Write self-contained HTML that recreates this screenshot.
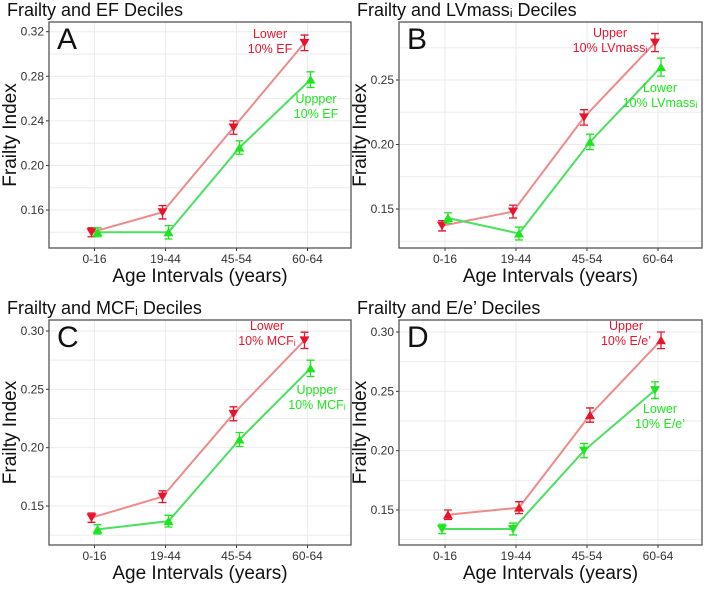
<!DOCTYPE html>
<html><head><meta charset="utf-8"><style>
body{margin:0;background:#fff;width:708px;height:585px;overflow:hidden}
svg{font-family:"Liberation Sans",Arial,sans-serif}
</style></head><body>
<svg id="c" width="708" height="585"></svg>
<script>
const categories=["0-16","19-44","45-54","60-64"];
const redA=[0.140,0.158,0.234,0.310], greenA=[0.140,0.140,0.216,0.277];
const redB=[0.137,0.148,0.221,0.279], greenB=[0.143,0.131,0.202,0.260];
const redC=[0.140,0.158,0.229,0.292], greenC=[0.130,0.137,0.207,0.268];
const redD=[0.146,0.152,0.230,0.293], greenD=[0.134,0.134,0.200,0.251];
const errA=[0.004,0.006,0.006,0.007], errB=[0.004,0.005,0.006,0.007];
const ticksA=["0.16","0.20","0.24","0.28","0.32"];
const ticksBCD=["0.15","0.20","0.25","0.30"];
const ticksB=["0.15","0.20","0.25"];
const NS="http://www.w3.org/2000/svg";
const svg=document.getElementById('c');
function el(t,a,p){const e=document.createElementNS(NS,t);for(const k in a)e.setAttribute(k,a[k]);(p||svg).appendChild(e);return e;}
const RED="#e8142c",REDL="#f08a8a",GRN="#1ee61e",GRNL="#4ae060";
function panel(o){
  const g=el('g',{});
  
  
  const [x0,y0,x1,y1]=o.box;
  const y=v=>o.py0+(v-o.v0)*(o.py1-o.py0)/(o.v1-o.v0);
  const x=i=>o.cx0+i*o.dx;
  const step=parseFloat(o.ticks[1])-parseFloat(o.ticks[0]);
  for(let v=parseFloat(o.ticks[0])-step/2;v<=parseFloat(o.ticks[o.ticks.length-1])+step;v+=step/2){
    const py=y(v); if(py<y0||py>y1)continue;
    const ln=el('line',{x1:x0,x2:x1,y1:py,y2:py,stroke:'#ebebeb','stroke-width':1},g);
     
  }
  categories.forEach((c,i)=>{
    const ln=el('line',{x1:x(i),x2:x(i),y1:y0,y2:y1,stroke:'#ebebeb'},g);
     
    el('line',{x1:x(i),x2:x(i),y1:y1,y2:y1+3,stroke:'#333'},g);
    const t=el('text',{x:x(i),y:y1+15,'font-size':12,'text-anchor':'middle',fill:'#333'},g);t.textContent=c;
     
  });
  o.ticks.forEach(s=>{
    const py=y(parseFloat(s));
    el('line',{x1:x0-3,x2:x0,y1:py,y2:py,stroke:'#333'},g);
    const t=el('text',{x:x0-5,y:py+4,'font-size':12,'text-anchor':'end',fill:'#333'},g);t.textContent=s;
     
  });
  const r=el('rect',{x:x0,y:y0,width:x1-x0,height:y1-y0,fill:'none',stroke:'#555','stroke-width':1.3},g);
   
  const series=[[o.red,RED,REDL,o.redDown,'red-series'],[o.green,GRN,GRNL,!o.redDown,'green-series']];
  series.forEach(([vals,col,lc,down,nm])=>{
    const off=down?-3:3;
    const pts=vals.map((v,i)=>[x(i)+off,y(v)]);
    const pl=el('polyline',{points:pts.map(p=>p.join(',')).join(' '),fill:'none',stroke:lc,'stroke-width':2},g);
     
    vals.forEach((v,i)=>{
      const e=o.err[i],px=pts[i][0],py=pts[i][1],ya=y(v+e),yb=y(v-e);
      el('path',{d:`M${px-4},${ya}H${px+4}M${px},${ya}V${yb}M${px-4},${yb}H${px+4}`,stroke:col,'stroke-width':1.3,fill:'none'},g);
      const s=5;
      const d=down?`M${px-s},${py-s*0.8}L${px+s},${py-s*0.8}L${px},${py+s*0.9}Z`:`M${px-s},${py+s*0.8}L${px+s},${py+s*0.8}L${px},${py-s*0.9}Z`;
      const m=el('path',{d,fill:col},g);
       
    });
  });
  const tt=el('text',{x:x0-42,y:y0-6,'font-size':18,fill:'#111'},g);tt.textContent=o.title;
   
  const lt=el('text',{x:x0+8,y:y0+27,'font-size':30,fill:'#111'},g);lt.textContent=o.letter;
   
  const yt=el('text',{transform:`translate(${x0-33},${(y0+y1)/2}) rotate(-90)`,'font-size':19,'text-anchor':'middle',fill:'#111'},g);yt.textContent='Frailty Index';
   
  const xt=el('text',{x:(x0+x1)/2,y:y1+34,'font-size':19,'text-anchor':'middle',fill:'#111'},g);xt.textContent='Age Intervals (years)';
   
  o.labels.forEach(([tx,ty,l1,l2,col])=>{
    const t1=el('text',{x:tx,y:ty,'font-size':12.5,'text-anchor':'middle',fill:col},g);t1.textContent=l1;
     
    const t2=el('text',{x:tx,y:ty+15,'font-size':12.5,'text-anchor':'middle',fill:col},g);t2.textContent=l2;
     
  });
}
panel({letter:'A',title:'Frailty and EF Deciles',box:[49,22,351,248],v0:0.16,v1:0.32,py0:210,py1:31.7,cx0:94.5,dx:71,ticks:ticksA,red:redA,green:greenA,redDown:true,err:errA,
  labels:[[270,38,'Lower','10% EF',RED],[316,103,'Uppper','10% EF',GRN]]});
panel({letter:'B',title:'Frailty and LVmassᵢ Deciles',box:[399,22,702,248],v0:0.15,v1:0.25,py0:209,py1:80,cx0:445,dx:71,ticks:ticksB,red:redB,green:greenB,redDown:true,err:errB,
  labels:[[610,37,'Upper','10% LVmassᵢ',RED],[660,92,'Lower','10% LVmassᵢ',GRN]]});
panel({letter:'C',title:'Frailty and MCFᵢ Deciles',box:[49,320,351,545],v0:0.15,v1:0.30,py0:506,py1:331,cx0:94.5,dx:71,ticks:ticksBCD,red:redC,green:greenC,redDown:true,err:errB,
  labels:[[267,330,'Lower','10% MCFᵢ',RED],[317,394,'Uppper','10% MCFᵢ',GRN]]});
panel({letter:'D',title:'Frailty and E/e\u2019 Deciles',box:[399,320,702,545],v0:0.15,v1:0.30,py0:510,py1:332,cx0:445,dx:71,ticks:ticksBCD,red:redD,green:greenD,redDown:false,err:errB,
  labels:[[626,330,'Upper','10% E/e\u2019',RED],[660,413,'Lower','10% E/e\u2019',GRN]]});
</script>
</body></html>
